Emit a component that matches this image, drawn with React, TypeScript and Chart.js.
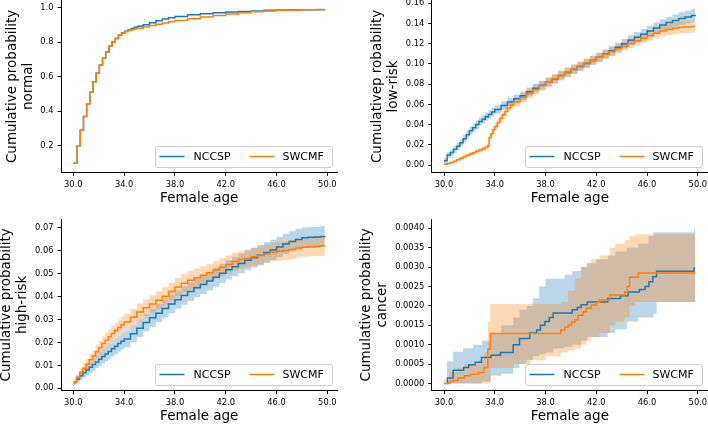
import React, { useEffect, useRef } from "react";
import { Chart, registerables } from "chart.js";

Chart.register(...registerables);

const FONT_FAMILY = "'DejaVu Sans', 'Liberation Sans', sans-serif";
const NCCSP_COLOR = "#1f77b4";
const SWCMF_COLOR = "#ff7f0e";
const NCCSP_FILL = "rgba(31,119,180,0.3)";
const SWCMF_FILL = "rgba(255,127,14,0.3)";

const seriesLabels = ["NCCSP", "SWCMF"];
const xAxisTitle = "Female age";
const xTickValues = [30, 34, 38, 42, 46, 50];

// ---------- Panel 1: normal ----------
const normalTitle = ["Cumulative probability", "normal"];
const normalTicks = [0.2, 0.4, 0.6, 0.8, 1.0];
const normalAges = [30.0, 30.3, 30.55, 30.8, 31.05, 31.3, 31.55, 31.8, 32.05, 32.3, 32.55, 32.8, 33.05, 33.3, 33.55, 33.8, 34.05, 34.3, 34.55, 34.8, 35.05, 35.5, 36.0, 36.5, 37.0, 37.5, 38.0, 39.0, 40.0, 41.0, 42.0, 43.0, 44.0, 45.0, 46.0, 47.0, 48.0, 49.0, 49.8];
const normalNccsp = [0.10, 0.20, 0.29, 0.37, 0.44, 0.51, 0.57, 0.62, 0.667, 0.706, 0.743, 0.775, 0.80, 0.82, 0.84, 0.852, 0.862, 0.87, 0.878, 0.885, 0.891, 0.9, 0.912, 0.923, 0.933, 0.94, 0.947, 0.957, 0.964, 0.969, 0.973, 0.977, 0.98, 0.983, 0.985, 0.986, 0.986, 0.986, 0.986];
const normalSwcmf = [0.10, 0.20, 0.29, 0.37, 0.44, 0.51, 0.57, 0.62, 0.667, 0.706, 0.743, 0.775, 0.80, 0.82, 0.84, 0.852, 0.86, 0.866, 0.871, 0.876, 0.88, 0.887, 0.895, 0.903, 0.91, 0.917, 0.924, 0.935, 0.944, 0.954, 0.962, 0.969, 0.975, 0.979, 0.983, 0.985, 0.987, 0.988, 0.989];

// ---------- shared age grid (panels 2 and 3) ----------
const gridAges = [30, 30.25, 30.5, 30.75, 31, 31.25, 31.5, 31.75, 32, 32.25, 32.5, 32.75, 33, 33.25, 33.5, 33.75, 34, 34.5, 35, 35.5, 36, 36.5, 37, 37.5, 38, 38.5, 39, 39.5, 40, 40.5, 41, 41.5, 42, 42.5, 43, 43.5, 44, 44.5, 45, 45.5, 46, 46.5, 47, 47.5, 48, 48.5, 49, 49.5, 49.8];

// ---------- Panel 2: low-risk ----------
const lowRiskTitle = ["Cumulativep robability", "low-risk"];
const lowRiskTicks = [0, 0.02, 0.04, 0.06, 0.08, 0.1, 0.12, 0.14, 0.16];
const lowRiskNccsp = [0.0043, 0.0099, 0.0125, 0.0155, 0.0185, 0.022, 0.026, 0.030, 0.034, 0.037, 0.040, 0.043, 0.0453, 0.0478, 0.050, 0.0525, 0.055, 0.059, 0.0623, 0.0655, 0.0685, 0.0725, 0.076, 0.079, 0.082, 0.085, 0.0885, 0.0915, 0.0945, 0.0975, 0.1005, 0.1035, 0.1066, 0.1098, 0.113, 0.1165, 0.12, 0.1235, 0.1265, 0.1295, 0.1325, 0.1355, 0.1385, 0.141, 0.143, 0.145, 0.1465, 0.148, 0.1485];
const lowRiskNccspCi = [0.0025, 0.003, 0.0032, 0.0034, 0.0035, 0.0036, 0.0037, 0.0038, 0.0039, 0.004, 0.004, 0.004, 0.0041, 0.0041, 0.0041, 0.0042, 0.0042, 0.0042, 0.0042, 0.0042, 0.0042, 0.0042, 0.0042, 0.0042, 0.0042, 0.0042, 0.0042, 0.0042, 0.0042, 0.0042, 0.0043, 0.0043, 0.0044, 0.0045, 0.0046, 0.0047, 0.0048, 0.005, 0.0051, 0.0052, 0.0053, 0.0055, 0.0057, 0.0058, 0.006, 0.0062, 0.0063, 0.0065, 0.0066];
const lowRiskSwcmfAges = [30, 30.25, 30.5, 30.75, 31, 31.25, 31.5, 31.75, 32, 32.25, 32.5, 32.75, 33, 33.25, 33.45, 33.55, 33.7, 33.85, 34, 34.2, 34.4, 34.6, 34.8, 35, 35.25, 35.5, 36, 36.5, 37, 37.5, 38, 38.5, 39, 39.5, 40, 40.5, 41, 41.5, 42, 42.5, 43, 43.5, 44, 44.5, 45, 45.5, 46, 46.5, 47, 47.5, 48, 48.5, 49, 49.5, 49.8];
const lowRiskSwcmf = [0.0007, 0.0015, 0.0025, 0.0038, 0.0052, 0.0068, 0.0083, 0.0096, 0.0109, 0.0122, 0.0136, 0.0149, 0.0162, 0.0175, 0.0188, 0.027, 0.031, 0.035, 0.038, 0.042, 0.046, 0.0497, 0.053, 0.0565, 0.0597, 0.0625, 0.0665, 0.071, 0.0748, 0.0785, 0.082, 0.0853, 0.0887, 0.092, 0.095, 0.098, 0.101, 0.1037, 0.1066, 0.1095, 0.1123, 0.115, 0.1178, 0.1205, 0.123, 0.1256, 0.128, 0.1303, 0.1325, 0.1342, 0.1355, 0.1363, 0.1367, 0.137, 0.137];
const lowRiskSwcmfCi = [0.0008, 0.001, 0.0012, 0.0014, 0.0015, 0.0016, 0.0018, 0.0019, 0.002, 0.0021, 0.0022, 0.0023, 0.0024, 0.0024, 0.0025, 0.003, 0.0032, 0.0034, 0.0036, 0.0038, 0.004, 0.0042, 0.0043, 0.0044, 0.0045, 0.0046, 0.0047, 0.0048, 0.0049, 0.005, 0.005, 0.005, 0.005, 0.005, 0.0049, 0.0048, 0.0047, 0.0046, 0.0045, 0.0045, 0.0045, 0.0045, 0.0045, 0.0046, 0.0047, 0.0048, 0.005, 0.0052, 0.0054, 0.0056, 0.0058, 0.006, 0.006, 0.0061, 0.0062];

// ---------- Panel 3: high-risk ----------
const highRiskTitle = ["Cumulative probability", "high-risk"];
const highRiskTicks = [0, 0.01, 0.02, 0.03, 0.04, 0.05, 0.06, 0.07];
const highRiskNccsp = [0.0025, 0.004, 0.0055, 0.0068, 0.008, 0.0092, 0.0104, 0.0115, 0.0127, 0.0139, 0.015, 0.0161, 0.0173, 0.0184, 0.0195, 0.0205, 0.0215, 0.0238, 0.0262, 0.0287, 0.0308, 0.0328, 0.0348, 0.0368, 0.0387, 0.0405, 0.0422, 0.0439, 0.0453, 0.0468, 0.0485, 0.0502, 0.0517, 0.0531, 0.0545, 0.0559, 0.057, 0.0581, 0.0593, 0.0604, 0.0617, 0.063, 0.0641, 0.065, 0.0657, 0.0659, 0.066, 0.0663, 0.0665];
const highRiskNccspCi = [0.0008, 0.0013, 0.0017, 0.002, 0.0023, 0.0025, 0.0027, 0.0028, 0.003, 0.0031, 0.0032, 0.0033, 0.0034, 0.0035, 0.0036, 0.0036, 0.0037, 0.0037, 0.0038, 0.0038, 0.0039, 0.0039, 0.004, 0.004, 0.004, 0.004, 0.0041, 0.0041, 0.0041, 0.0041, 0.0042, 0.0042, 0.0042, 0.0042, 0.0043, 0.0043, 0.0043, 0.0044, 0.0044, 0.0044, 0.0045, 0.0045, 0.0045, 0.0045, 0.0045, 0.0045, 0.0045, 0.0045, 0.0045];
const highRiskSwcmf = [0.0026, 0.0048, 0.007, 0.0088, 0.0105, 0.0125, 0.0141, 0.016, 0.0177, 0.0195, 0.021, 0.0225, 0.0239, 0.0252, 0.0265, 0.0277, 0.0289, 0.031, 0.0333, 0.0352, 0.0368, 0.0384, 0.0402, 0.0422, 0.0442, 0.0459, 0.0472, 0.0483, 0.0493, 0.0504, 0.0516, 0.0528, 0.054, 0.0553, 0.0562, 0.0567, 0.0574, 0.058, 0.0587, 0.0594, 0.0598, 0.0601, 0.0606, 0.0612, 0.0616, 0.0618, 0.062, 0.0621, 0.0622];
const highRiskSwcmfCi = [0.0008, 0.0013, 0.0017, 0.002, 0.0022, 0.0024, 0.0026, 0.0028, 0.003, 0.0031, 0.0032, 0.0033, 0.0034, 0.0034, 0.0035, 0.0035, 0.0036, 0.0036, 0.0037, 0.0037, 0.0038, 0.0038, 0.0039, 0.0039, 0.004, 0.004, 0.004, 0.004, 0.004, 0.004, 0.004, 0.004, 0.004, 0.004, 0.004, 0.004, 0.004, 0.004, 0.004, 0.004, 0.0041, 0.0041, 0.0041, 0.0041, 0.0042, 0.0042, 0.0042, 0.0042, 0.0042];

// ---------- Panel 4: cancer ----------
const cancerTitle = ["Cumulative probability", "cancer"];
const cancerTicks = [0, 0.0005, 0.001, 0.0015, 0.002, 0.0025, 0.003, 0.0035, 0.004];
const cancerNccspAges = [30.22, 30.27, 30.72, 31.55, 31.95, 32.45, 32.95, 33.7, 34.45, 35.45, 35.95, 36.75, 37.3, 37.6, 37.95, 38.3, 38.6, 40.1, 40.5, 40.8, 41.3, 42.9, 43.9, 44.5, 45.4, 45.85, 46.15, 46.45, 46.75, 49.7, 49.8];
const cancerNccsp = [0, 0.00014, 0.00034, 0.00041, 0.00048, 0.00055, 0.00067, 0.00073, 0.0008, 0.001, 0.00116, 0.0013, 0.00138, 0.0015, 0.0016, 0.0017, 0.00182, 0.0019, 0.00196, 0.00203, 0.0021, 0.00219, 0.00226, 0.00236, 0.00242, 0.0025, 0.00262, 0.00275, 0.00289, 0.00297, 0.00297];
const cancerNccspBandAges = [30.22, 30.72, 31.5, 32.3, 33.0, 33.7, 34.5, 35.45, 35.95, 36.5, 37.0, 37.5, 38.0, 38.6, 39.5, 40.1, 40.8, 41.3, 42.0, 42.9, 43.5, 44.4, 45.3, 46.1, 46.5, 46.75, 49.7, 49.8];
const cancerNccspHi = [0.00057, 0.00082, 0.00091, 0.001, 0.0011, 0.0013, 0.0015, 0.0017, 0.0019, 0.002, 0.0022, 0.0025, 0.0027, 0.0027, 0.0028, 0.0029, 0.003, 0.0031, 0.0032, 0.0033, 0.0034, 0.0035, 0.0036, 0.0038, 0.0039, 0.0039, 0.004, 0.004];
const cancerNccspLo = [0, 0, 0, 0, 0.00005, 0.0002, 0.00025, 0.0004, 0.0005, 0.0006, 0.0007, 0.00075, 0.0008, 0.0009, 0.00095, 0.001, 0.0011, 0.0012, 0.0012, 0.0013, 0.0014, 0.0016, 0.0017, 0.0017, 0.0018, 0.0021, 0.0021, 0.0021];
const cancerSwcmfAges = [30.0, 30.45, 30.7, 31.1, 31.6, 32.1, 32.7, 33.15, 33.45, 33.65, 39.2, 39.5, 39.77, 40.05, 40.3, 40.56, 40.95, 41.2, 41.6, 42.0, 42.26, 43.05, 44.23, 44.45, 44.62, 45.3, 49.8];
const cancerSwcmf = [0, 0.00005, 0.00008, 0.00014, 0.0002, 0.00024, 0.00028, 0.00041, 0.00088, 0.00129, 0.00138, 0.00145, 0.00151, 0.00158, 0.00164, 0.00176, 0.00185, 0.00194, 0.00202, 0.00209, 0.00215, 0.00228, 0.00236, 0.0025, 0.00274, 0.00285, 0.00285];
const cancerSwcmfBandAges = [30.0, 30.45, 31.1, 31.6, 32.7, 33.15, 33.45, 33.65, 35.5, 36.8, 38.0, 39.2, 39.77, 40.3, 40.8, 41.2, 41.6, 42.26, 43.05, 43.5, 44.23, 44.62, 45.05, 49.8];
const cancerSwcmfHi = [0.0001, 0.0003, 0.0004, 0.0005, 0.0006, 0.0008, 0.0016, 0.00205, 0.00205, 0.00205, 0.00205, 0.0021, 0.0024, 0.0027, 0.003, 0.0031, 0.0032, 0.0033, 0.0035, 0.0036, 0.0037, 0.0038, 0.00385, 0.00385];
const cancerSwcmfLo = [0, 0, 0, 0, 0, 0, 0, 0.0004, 0.0005, 0.0006, 0.0007, 0.0008, 0.00085, 0.0009, 0.001, 0.0011, 0.0012, 0.0013, 0.0015, 0.0016, 0.0017, 0.002, 0.0021, 0.0021];

// ---------- helpers ----------
type Band = { age: number[]; lo: number[]; hi: number[] };
type Series = { age: number[]; val: number[]; band?: Band };

const pts = (xs: number[], ys: number[]) => xs.map((x, i) => ({ x, y: ys[i] }));
const ciBand = (age: number[], val: number[], ci: number[]): Band => ({
  age,
  lo: val.map((v, i) => v - ci[i]),
  hi: val.map((v, i) => v + ci[i]),
});

type Panel = {
  left: number;
  top: number;
  title: string[];
  ticks: number[];
  decimals: number;
  yMin: number;
  yMax: number;
  padTop: number;
  padRight: number;
  yWidth: number;
  xHeight: number;
  yTitlePad: number;
  xTitlePad: number;
  nccsp: Series;
  swcmf: Series;
};

const panels: Panel[] = [
  {
    left: 0, top: 0, title: normalTitle, ticks: normalTicks, decimals: 1,
    yMin: 0.047, yMax: 1.04, padTop: 0.5, padRight: 16.5, yWidth: 61, xHeight: 40.7,
    yTitlePad: 4, xTitlePad: 6.2,
    nccsp: { age: normalAges, val: normalNccsp },
    swcmf: { age: normalAges, val: normalSwcmf },
  },
  {
    left: 354, top: 0, title: lowRiskTitle, ticks: lowRiskTicks, decimals: 2,
    yMin: -0.0072, yMax: 0.1628, padTop: 0.5, padRight: 0, yWidth: 77.7, xHeight: 40.7,
    yTitlePad: 15, xTitlePad: 6.2,
    nccsp: { age: gridAges, val: lowRiskNccsp, band: ciBand(gridAges, lowRiskNccsp, lowRiskNccspCi) },
    swcmf: { age: lowRiskSwcmfAges, val: lowRiskSwcmf, band: ciBand(lowRiskSwcmfAges, lowRiskSwcmf, lowRiskSwcmfCi) },
  },
  {
    left: 0, top: 213, title: highRiskTitle, ticks: highRiskTicks, decimals: 2,
    yMin: -0.00105, yMax: 0.0739, padTop: 6, padRight: 16.5, yWidth: 61, xHeight: 35.3,
    yTitlePad: -1.3, xTitlePad: 1.3,
    nccsp: { age: gridAges, val: highRiskNccsp, band: ciBand(gridAges, highRiskNccsp, highRiskNccspCi) },
    swcmf: { age: gridAges, val: highRiskSwcmf, band: ciBand(gridAges, highRiskSwcmf, highRiskSwcmfCi) },
  },
  {
    left: 354, top: 213, title: cancerTitle, ticks: cancerTicks, decimals: 4,
    yMin: -0.000186, yMax: 0.00424, padTop: 6, padRight: 0, yWidth: 77.7, xHeight: 35.3,
    yTitlePad: 4.9, xTitlePad: 1.3,
    nccsp: { age: cancerNccspAges, val: cancerNccsp, band: { age: cancerNccspBandAges, lo: cancerNccspLo, hi: cancerNccspHi } },
    swcmf: { age: cancerSwcmfAges, val: cancerSwcmf, band: { age: cancerSwcmfBandAges, lo: cancerSwcmfLo, hi: cancerSwcmfHi } },
  },
];

const legendPlugin = {
  id: "mplLegend",
  afterDraw(chart: any) {
    const { ctx, chartArea } = chart;
    const w = 177;
    const h = 21;
    const x = Math.round(chartArea.right - 6 - w) + 0.5;
    const y = Math.round(chartArea.bottom - 5.5 - h) + 0.5;
    const r = 2.5;
    ctx.save();
    ctx.beginPath();
    ctx.moveTo(x + r, y);
    ctx.lineTo(x + w - r, y);
    ctx.arcTo(x + w, y, x + w, y + r, r);
    ctx.lineTo(x + w, y + h - r);
    ctx.arcTo(x + w, y + h, x + w - r, y + h, r);
    ctx.lineTo(x + r, y + h);
    ctx.arcTo(x, y + h, x, y + h - r, r);
    ctx.lineTo(x, y + r);
    ctx.arcTo(x, y, x + r, y, r);
    ctx.closePath();
    ctx.fillStyle = "rgba(255,255,255,0.8)";
    ctx.fill();
    ctx.strokeStyle = "#cccccc";
    ctx.lineWidth = 1;
    ctx.stroke();
    const cy = y + h / 2 - 0.5;
    const items = [
      { color: NCCSP_COLOR, label: seriesLabels[0], lx: 4, tx: 38 },
      { color: SWCMF_COLOR, label: seriesLabels[1], lx: 94, tx: 127 },
    ];
    ctx.font = `11px ${FONT_FAMILY}`;
    ctx.textBaseline = "middle";
    ctx.textAlign = "left";
    for (const it of items) {
      ctx.beginPath();
      ctx.moveTo(x + it.lx, cy);
      ctx.lineTo(x + it.lx + 25, cy);
      ctx.strokeStyle = it.color;
      ctx.lineWidth = 1.5;
      ctx.stroke();
      ctx.fillStyle = "#000";
      ctx.fillText(it.label, x + it.tx, cy + 0.5);
    }
    ctx.restore();
  },
};

function buildDatasets(p: Panel) {
  const line = (s: Series, color: string) => ({
    data: pts(s.age, s.val),
    borderColor: color,
    backgroundColor: color,
    borderWidth: 1.5,
    pointRadius: 0,
    pointHoverRadius: 0,
    stepped: true,
    fill: false,
  });
  const bandDs = (b: Band, fillColor: string) => [
    {
      data: pts(b.age, b.hi),
      borderWidth: 0,
      borderColor: "rgba(0,0,0,0)",
      backgroundColor: fillColor,
      pointRadius: 0,
      pointHoverRadius: 0,
      stepped: true,
      fill: "+1",
    },
    {
      data: pts(b.age, b.lo),
      borderWidth: 0,
      borderColor: "rgba(0,0,0,0)",
      backgroundColor: "rgba(0,0,0,0)",
      pointRadius: 0,
      pointHoverRadius: 0,
      stepped: true,
      fill: false,
    },
  ];
  const ds: any[] = [line(p.swcmf, SWCMF_COLOR), line(p.nccsp, NCCSP_COLOR)];
  if (p.swcmf.band) ds.push(...bandDs(p.swcmf.band, SWCMF_FILL));
  if (p.nccsp.band) ds.push(...bandDs(p.nccsp.band, NCCSP_FILL));
  return ds;
}

function PanelChart({ p }: { p: Panel }) {
  const ref = useRef<HTMLCanvasElement | null>(null);
  useEffect(() => {
    if (!ref.current) return;
    const titleLH = 16 / 13.5;
    const chart = new Chart(ref.current, {
      type: "line",
      data: { datasets: buildDatasets(p) },
      options: {
        animation: false,
        responsive: false,
        maintainAspectRatio: false,
        devicePixelRatio: 1,
        events: [],
        layout: { padding: { top: p.padTop, right: p.padRight, left: 0, bottom: 0 } },
        plugins: {
          legend: { display: false },
          tooltip: { enabled: false },
        },
        scales: {
          x: {
            type: "linear",
            min: 29.03,
            max: 50.8,
            afterBuildTicks: (s: any) => {
              s.ticks = xTickValues.map((v) => ({ value: v }));
            },
            afterFit: (s: any) => {
              s.height = p.xHeight;
              s.paddingLeft = 0;
              s.paddingRight = 0;
            },
            ticks: {
              callback: (v: any) => Number(v).toFixed(1),
              font: { family: FONT_FAMILY, size: 8.3 },
              color: "#000",
              padding: 3.75,
              maxRotation: 0,
              minRotation: 0,
              autoSkip: false,
            },
            grid: {
              display: true,
              drawOnChartArea: false,
              drawTicks: true,
              tickLength: 3.5,
              tickColor: "#000",
              tickWidth: 1,
            },
            border: { display: true, color: "#000", width: 1 },
            title: {
              display: true,
              text: xAxisTitle,
              color: "#000",
              font: { family: FONT_FAMILY, size: 13.5, lineHeight: titleLH },
              padding: { top: 0, bottom: p.xTitlePad },
            },
          },
          y: {
            type: "linear",
            min: p.yMin,
            max: p.yMax,
            afterBuildTicks: (s: any) => {
              s.ticks = p.ticks.map((v) => ({ value: v }));
            },
            afterFit: (s: any) => {
              s.width = p.yWidth;
              s.paddingTop = 0;
              s.paddingBottom = 0;
            },
            ticks: {
              callback: (v: any) => Number(v).toFixed(p.decimals),
              font: { family: FONT_FAMILY, size: 8.3 },
              color: "#000",
              padding: 4,
              autoSkip: false,
            },
            grid: {
              display: true,
              drawOnChartArea: false,
              drawTicks: true,
              tickLength: 3.5,
              tickColor: "#000",
              tickWidth: 1,
            },
            border: { display: true, color: "#000", width: 1 },
            title: {
              display: true,
              text: p.title,
              color: "#000",
              font: { family: FONT_FAMILY, size: 13.5, lineHeight: titleLH },
              padding: { top: p.yTitlePad, bottom: 0 },
            },
          },
        },
      } as any,
      plugins: [legendPlugin],
    });
    return () => chart.destroy();
  }, [p]);
  return (
    <canvas
      ref={ref}
      width={354}
      height={213}
      style={{ position: "absolute", left: p.left, top: p.top, width: 354, height: 213 }}
    />
  );
}

export default function App() {
  return (
    <div
      style={{
        position: "absolute",
        left: 0,
        top: 0,
        width: 708,
        height: 426,
        background: "#fff",
        overflow: "hidden",
      }}
    >
      {panels.map((p, i) => (
        <PanelChart key={i} p={p} />
      ))}
    </div>
  );
}
